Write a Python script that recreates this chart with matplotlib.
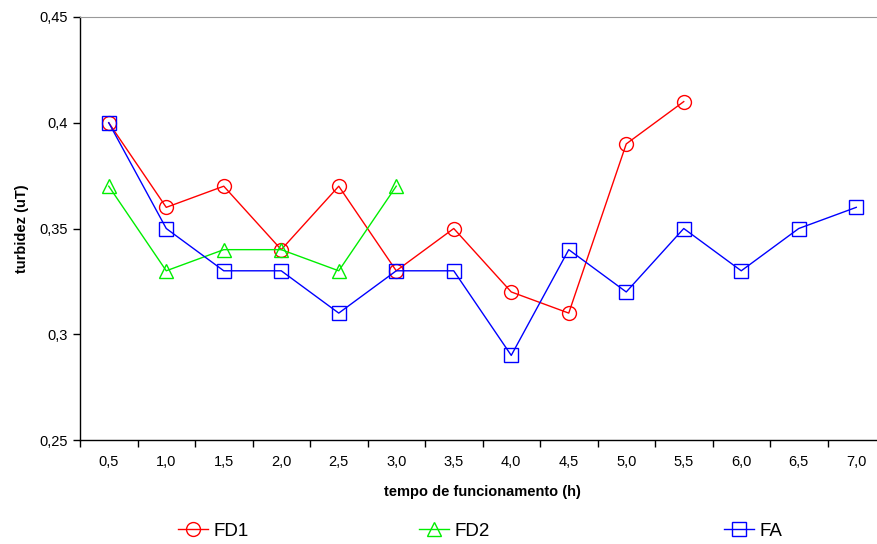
import matplotlib.pyplot as plt
from matplotlib.ticker import FixedLocator

plt.rcParams['font.family'] = ['Liberation Sans', 'DejaVu Sans']

# time categories (h) and turbidity per filter
tempo = ["0,5", "1,0", "1,5", "2,0", "2,5", "3,0", "3,5",
         "4,0", "4,5", "5,0", "5,5", "6,0", "6,5", "7,0"]
fd1 = [0.40, 0.36, 0.37, 0.34, 0.37, 0.33, 0.35, 0.32, 0.31, 0.39, 0.41]
fd2 = [0.37, 0.33, 0.34, 0.34, 0.33, 0.37]
fa = [0.40, 0.35, 0.33, 0.33, 0.31, 0.33, 0.33, 0.29, 0.34, 0.32, 0.35, 0.33, 0.35, 0.36]
y_ticks = [0.25, 0.30, 0.35, 0.40, 0.45]
y_labels = ["0,25", "0,3", "0,35", "0,4", "0,45"]

fig = plt.figure(figsize=(8.77, 5.44), dpi=100)
# plot area runs a little past the right edge, like the original export
ax = fig.add_axes([80/877, 104/544, 805/877, 423/544])

ms = 10
style = dict(markerfacecolor='none', markersize=ms, markeredgewidth=1.0, linewidth=1.0)
l1, = ax.plot(range(len(fd1)), fd1, color='#ff0000', marker='o', label='FD1', **style)
l2, = ax.plot(range(len(fd2)), fd2, color='#00ee00', marker='^', label='FD2', **style)
l3, = ax.plot(range(len(fa)), fa, color='#0000ff', marker='s', label='FA', **style)
for ln in (l1, l2, l3):
    ln.set_clip_on(False)

ax.set_xlim(-0.5, len(tempo) - 0.5)
ax.set_ylim(0.25, 0.45)
ax.set_xticks(range(len(tempo)))
ax.set_xticklabels(tempo, fontsize=10.5)
ax.tick_params(axis='x', length=0, pad=11)
ax.xaxis.set_minor_locator(FixedLocator([i - 0.5 for i in range(len(tempo) + 1)]))
ax.tick_params(axis='x', which='minor', length=5, width=1, direction='out')
ax.set_yticks(y_ticks)
ax.set_yticklabels(y_labels, fontsize=10.5)
ax.tick_params(axis='y', length=5, width=1, direction='out', pad=4)

ax.spines['right'].set_visible(False)
ax.spines['top'].set_color('#999999')
ax.spines['left'].set_linewidth(1)
ax.spines['bottom'].set_linewidth(1)

ax.set_xlabel('tempo de funcionamento (h)', fontsize=10.5, fontweight='bold', labelpad=11)
ax.set_ylabel('turbidez (uT)', fontsize=10.5, fontweight='bold', labelpad=7)

# separate legend entries spread along the bottom
for h, xpos in ((l1, 178/877), (l2, 419/877), (l3, 724/877)):
    fig.legend(handles=[h], loc='center left', bbox_to_anchor=(xpos, 13/544),
               frameon=False, fontsize=13.5, handlelength=1.6, handletextpad=0.3,
               borderaxespad=0, borderpad=0)

fig.savefig('out.png', dpi=100)
